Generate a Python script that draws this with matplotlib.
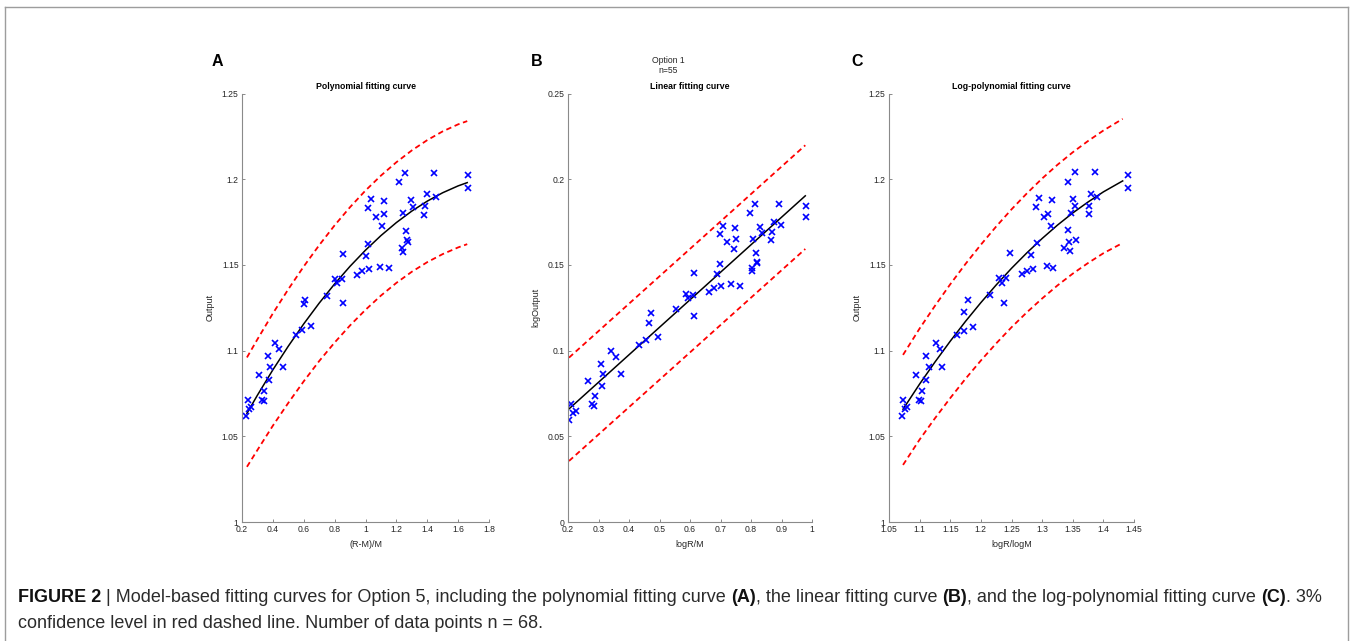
import matplotlib
matplotlib.use("Agg")
import matplotlib.pyplot as plt
from matplotlib.lines import Line2D

plt.rcParams['font.family'] = ['Liberation Sans', 'DejaVu Sans']

# ---- panel A: polynomial fit, x = (R-M)/M, y = Output
a_x = [0.228, 0.237, 0.245, 0.261, 0.312, 0.328, 0.341, 0.345, 0.369, 0.373,
       0.379, 0.416, 0.440, 0.464, 0.552, 0.587, 0.600, 0.609, 0.650, 0.749,
       0.805, 0.818, 0.849, 0.855, 0.855, 0.944, 0.976, 1.000, 1.017, 1.019,
       1.024, 1.035, 1.065, 1.093, 1.110, 1.119, 1.123, 1.149, 1.218, 1.238,
       1.240, 1.244, 1.253, 1.264, 1.272, 1.275, 1.292, 1.305, 1.378, 1.387,
       1.398, 1.445, 1.458, 1.664, 1.664]
a_y = [1.0617, 1.0712, 1.0660, 1.0670, 1.0856, 1.0710, 1.0704, 1.0765, 1.0969, 1.0827,
       1.0905, 1.1047, 1.1012, 1.0905, 1.1090, 1.1119, 1.1270, 1.1294, 1.1142, 1.1319,
       1.1420, 1.1393, 1.1418, 1.1564, 1.1278, 1.1440, 1.1465, 1.1554, 1.1624, 1.1831,
       1.1475, 1.1887, 1.1778, 1.1490, 1.1726, 1.1874, 1.1796, 1.1480, 1.1981, 1.1596,
       1.1576, 1.1800, 1.2037, 1.1700, 1.1644, 1.1632, 1.1878, 1.1840, 1.1794, 1.1844,
       1.1912, 1.2039, 1.1895, 1.2023, 1.1947]
a_cx = [0.232, 0.3, 0.4, 0.5, 0.6, 0.7, 0.8, 0.9, 1.0, 1.1, 1.2, 1.3, 1.4, 1.5, 1.6, 1.659]
a_fit = [1.0634, 1.0740, 1.0888, 1.1026, 1.1156, 1.1277, 1.1389, 1.1492, 1.1586, 1.1671,
         1.1747, 1.1814, 1.1872, 1.1921, 1.1961, 1.1980]
a_up = [1.0960, 1.1066, 1.1217, 1.1358, 1.1491, 1.1615, 1.1731, 1.1837, 1.1934, 1.2021,
        1.2099, 1.2168, 1.2228, 1.2279, 1.2320, 1.2339]
a_lo = [1.0322, 1.0420, 1.0562, 1.0695, 1.0821, 1.0939, 1.1047, 1.1147, 1.1238, 1.1321,
        1.1395, 1.1460, 1.1516, 1.1563, 1.1602, 1.1621]

# ---- panel B: linear fit, x = logR/M, y = logOutput
b_x = [0.2022, 0.2088, 0.2164, 0.2274, 0.2658, 0.2778, 0.2844, 0.2899, 0.3074, 0.3107,
       0.3151, 0.3403, 0.3589, 0.3732, 0.4334, 0.4553, 0.4652, 0.4718, 0.4959, 0.5551,
       0.5858, 0.5945, 0.6110, 0.6132, 0.6142, 0.6614, 0.6778, 0.6899, 0.6986, 0.6986,
       0.7019, 0.7074, 0.7227, 0.7359, 0.7436, 0.7490, 0.7523, 0.7633, 0.7951, 0.8038,
       0.8049, 0.8071, 0.8115, 0.8148, 0.8192, 0.8203, 0.8279, 0.8345, 0.8652, 0.8685,
       0.8751, 0.8926, 0.8992, 0.9792, 0.9792]
b_y = [0.0597, 0.0687, 0.0638, 0.0650, 0.0821, 0.0687, 0.0677, 0.0737, 0.0922, 0.0794,
       0.0866, 0.0996, 0.0965, 0.0866, 0.1035, 0.1062, 0.1160, 0.1220, 0.1082, 0.1245,
       0.1329, 0.1304, 0.1325, 0.1453, 0.1204, 0.1344, 0.1366, 0.1444, 0.1506, 0.1681,
       0.1374, 0.1728, 0.1636, 0.1387, 0.1591, 0.1716, 0.1650, 0.1379, 0.1805, 0.1479,
       0.1465, 0.1652, 0.1854, 0.1568, 0.1518, 0.1512, 0.1720, 0.1685, 0.1648, 0.1691,
       0.1749, 0.1854, 0.1731, 0.1842, 0.1778]
b_cx = [0.2033, 0.978]
b_fit = [0.0660, 0.1903]
b_up = [0.0959, 0.2198]
b_lo = [0.0356, 0.1593]

# ---- panel C: log-polynomial fit, x = logR/logM, y = Output
c_x = [1.0713, 1.0729, 1.0756, 1.0794, 1.0941, 1.0996, 1.1023, 1.1040, 1.1099, 1.1110,
       1.1154, 1.1263, 1.1339, 1.1366, 1.1606, 1.1726, 1.1726, 1.1797, 1.1868, 1.2151,
       1.2298, 1.2342, 1.2407, 1.2473, 1.2380, 1.2669, 1.2745, 1.2816, 1.2920, 1.2898,
       1.2843, 1.2947, 1.3034, 1.3072, 1.3149, 1.3165, 1.3100, 1.3170, 1.3415, 1.3356,
       1.3459, 1.3475, 1.3530, 1.3415, 1.3431, 1.3546, 1.3503, 1.3541, 1.3770, 1.3759,
       1.3792, 1.3862, 1.3890, 1.4396, 1.4396]
c_y = [1.0617, 1.0712, 1.0660, 1.0670, 1.0856, 1.0710, 1.0704, 1.0765, 1.0969, 1.0827,
       1.0905, 1.1047, 1.1012, 1.0905, 1.1090, 1.1117, 1.1226, 1.1296, 1.1138, 1.1325,
       1.1424, 1.1397, 1.1422, 1.1568, 1.1276, 1.1444, 1.1467, 1.1558, 1.1628, 1.1835,
       1.1477, 1.1889, 1.1782, 1.1492, 1.1728, 1.1876, 1.1796, 1.1483, 1.1982, 1.1599,
       1.1582, 1.1800, 1.2041, 1.1702, 1.1636, 1.1648, 1.1882, 1.1842, 1.1796, 1.1846,
       1.1914, 1.2041, 1.1897, 1.2025, 1.1949]
c_cx = [1.0729, 1.1, 1.125, 1.15, 1.175, 1.2, 1.225, 1.25, 1.275, 1.3, 1.325, 1.35,
        1.375, 1.4, 1.4315]
c_fit = [1.0658, 1.0805, 1.0933, 1.1055, 1.1171, 1.1280, 1.1383, 1.1480, 1.1570, 1.1654,
         1.1732, 1.1803, 1.1867, 1.1926, 1.1990]
c_up = [1.0975, 1.1129, 1.1261, 1.1387, 1.1506, 1.1618, 1.1724, 1.1824, 1.1917, 1.2004,
        1.2084, 1.2157, 1.2223, 1.2284, 1.2352]
c_lo = [1.0333, 1.0481, 1.0605, 1.0723, 1.0836, 1.0942, 1.1042, 1.1136, 1.1223, 1.1304,
        1.1380, 1.1449, 1.1511, 1.1568, 1.1628]

# ticks
a_xticks = [0.2, 0.4, 0.6, 0.8, 1.0, 1.2, 1.4, 1.6, 1.8]
a_xlabels = ['0.2', '0.4', '0.6', '0.8', '1', '1.2', '1.4', '1.6', '1.8']
out_yticks = [1.0, 1.05, 1.1, 1.15, 1.2, 1.25]
out_ylabels = ['1', '1.05', '1.1', '1.15', '1.2', '1.25']
b_xticks = [0.2, 0.3, 0.4, 0.5, 0.6, 0.7, 0.8, 0.9, 1.0]
b_xlabels = ['0.2', '0.3', '0.4', '0.5', '0.6', '0.7', '0.8', '0.9', '1']
b_yticks = [0, 0.05, 0.1, 0.15, 0.2, 0.25]
b_ylabels = ['0', '0.05', '0.1', '0.15', '0.2', '0.25']
c_xticks = [1.05, 1.1, 1.15, 1.2, 1.25, 1.3, 1.35, 1.4, 1.45]
c_xlabels = ['1.05', '1.1', '1.15', '1.2', '1.25', '1.3', '1.35', '1.4', '1.45']

W, H = 1352, 641
AX_TOP, AX_BOT = 93.5, 522
AXC = '#8a8a8a'
TXT = '#262626'


def px_axes(fig, left, right):
    return fig.add_axes([left / W, (H - AX_BOT) / H, (right - left) / W, (AX_BOT - AX_TOP) / H])


def panel(ax, x, y, cx, fit, up, lo, xt, xl, yt, yl, xlim, ylim, title, xlabel, ylabel):
    ax.plot(cx, up, color='red', lw=1.3, dashes=(3, 2))
    ax.plot(cx, lo, color='red', lw=1.3, dashes=(3, 2))
    ax.plot(cx, fit, color='black', lw=1.1)
    ax.plot(x, y, 'x', color='blue', ms=4, mew=1.2, linestyle='none')
    ax.set_xlim(xlim)
    ax.set_ylim(ylim)
    ax.set_xticks(xt)
    ax.set_xticklabels(xl)
    ax.set_yticks(yt)
    ax.set_yticklabels(yl)
    for s in ['top', 'right']:
        ax.spines[s].set_visible(False)
    for s in ['left', 'bottom']:
        ax.spines[s].set_color(AXC)
        ax.spines[s].set_linewidth(0.8)
    ax.tick_params(direction='in', length=2.5, width=0.7, color=AXC,
                   labelsize=6.2, labelcolor=TXT, pad=2.5)
    ax.set_title(title, fontsize=6.3, fontweight='bold', pad=3)
    ax.set_xlabel(xlabel, fontsize=6.5, color=TXT, labelpad=4)
    ax.set_ylabel(ylabel, fontsize=6.5, color=TXT, labelpad=5)


fig = plt.figure(figsize=(W / 100, H / 100), dpi=100)

axA = px_axes(fig, 242, 489)
panel(axA, a_x, a_y, a_cx, a_fit, a_up, a_lo, a_xticks, a_xlabels, out_yticks, out_ylabels,
      (0.2, 1.8), (1.0, 1.25), 'Polynomial fitting curve', '(R-M)/M', 'Output')

axB = px_axes(fig, 568, 812)
panel(axB, b_x, b_y, b_cx, b_fit, b_up, b_lo, b_xticks, b_xlabels, b_yticks, b_ylabels,
      (0.2, 1.0), (0.0, 0.25), 'Linear fitting curve', 'logR/M', 'logOutput')

axC = px_axes(fig, 889, 1134)
panel(axC, c_x, c_y, c_cx, c_fit, c_up, c_lo, c_xticks, c_xlabels, out_yticks, out_ylabels,
      (1.05, 1.45), (1.0, 1.25), 'Log-polynomial fitting curve', 'logR/logM', 'Output')

# panel letters and the stray MATLAB super-title
for lab, xp in [('A', 217), ('B', 537), ('C', 857)]:
    fig.text(xp / W, 1 - 62 / H, lab, fontsize=11.5, fontweight='bold', ha='center', va='center')
fig.text(668 / W, 1 - 65.5 / H, 'Option 1\nn=55', fontsize=6.2, ha='center', va='center',
         color=TXT, linespacing=1.15)

# frame around the figure
fc = '#9d9d9d'
fig.add_artist(Line2D([4.5 / W, 4.5 / W], [0, 1 - 6.5 / H], color=fc, lw=1))
fig.add_artist(Line2D([4.5 / W, 1347.5 / W], [1 - 6.5 / H, 1 - 6.5 / H], color=fc, lw=1))
fig.add_artist(Line2D([1347.5 / W, 1347.5 / W], [0, 1 - 6.5 / H], color=fc, lw=1))

# caption with mixed weights
renderer = fig.canvas.get_renderer()


def rich_line(x0, ypix, parts):
    x = x0
    for txt, bold in parts:
        t = fig.text(x / W, 1 - ypix / H, txt, fontsize=13, va='center', ha='left',
                     fontweight='bold' if bold else 'normal',
                     color='#111111' if bold else '#2b2b2b')
        bb = t.get_window_extent(renderer=renderer)
        x += bb.width


rich_line(18, 597, [
    ('FIGURE 2', True),
    (' | Model-based fitting curves for Option 5, including the polynomial fitting curve ', False),
    ('(A)', True),
    (', the linear fitting curve ', False),
    ('(B)', True),
    (', and the log-polynomial fitting curve ', False),
    ('(C)', True),
    ('. 3%', False),
])
rich_line(18, 624, [
    ('confidence level in red dashed line. Number of data points n = 68.', False),
])

fig.savefig('out.png', dpi=100)
